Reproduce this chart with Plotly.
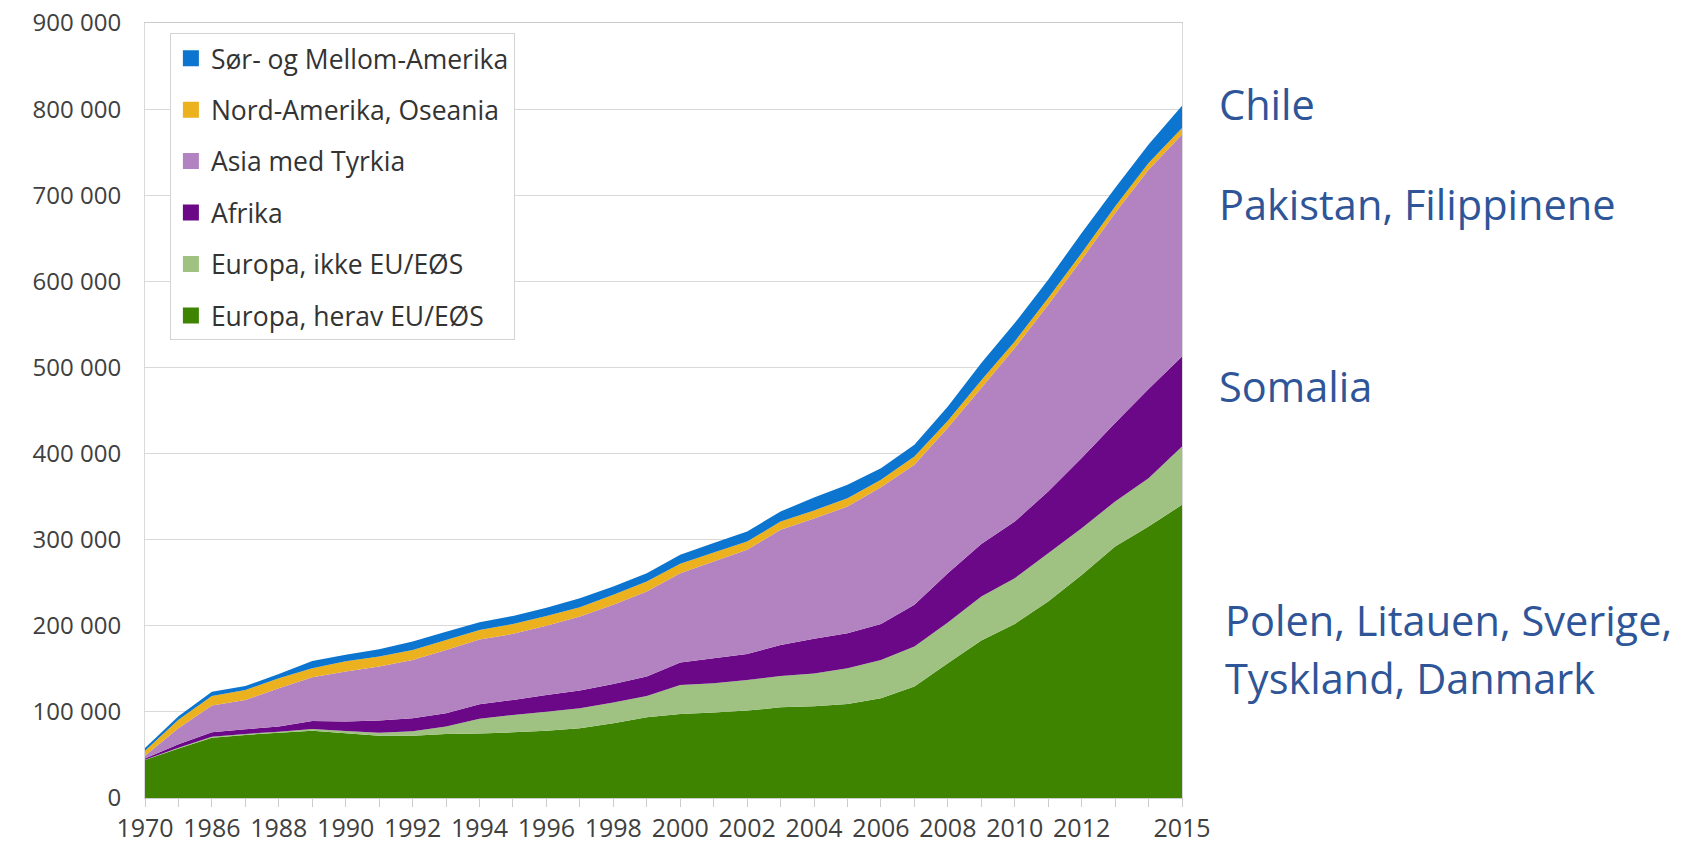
import plotly.graph_objects as go

years = ["1970", "1980"] + [str(y) for y in range(1986, 2016)]
tick_labels = ["1970", ""] + [str(y) if (y % 2 == 0 and y <= 2012) else "" for y in range(1986, 2015)] + ["2015"]

series_names = [
    "Europa, herav EU/EØS",
    "Europa, ikke EU/EØS",
    "Afrika",
    "Asia med Tyrkia",
    "Nord-Amerika, Oseania",
    "Sør- og Mellom-Amerika",
]

europa_eu = [44000, 57500, 70000, 73200, 75900, 78200, 75200, 72400, 72400, 74400, 75000, 76300,
             78200, 81000, 86800, 93700, 97600, 99200, 101500, 105300, 106500, 109200, 115800,
             129400, 156500, 182800, 202200, 228100, 259100, 292000, 315300, 340500]
europa_ikke_eu = [500, 1000, 1000, 1200, 1100, 2000, 2700, 3500, 5000, 8500, 17000, 20100, 22100,
                  23200, 24000, 24800, 33700, 34000, 35600, 36500, 38000, 41500, 44600, 46400,
                  47200, 51100, 53100, 56200, 54300, 52300, 56000, 67800]
afrika = [1500, 4000, 5300, 5400, 5900, 9300, 10800, 14000, 15200, 15500, 17000, 17500, 19400,
          20500, 21700, 22500, 26000, 29100, 30200, 36000, 40500, 40600, 41800, 48500, 57300,
          61200, 65700, 71700, 81300, 91100, 103700, 104500]
asia = [3000, 18500, 31000, 34100, 44500, 50700, 58100, 62700, 67800, 73600, 75000, 76700, 80300,
        86000, 91800, 98800, 103700, 112300, 120900, 133600, 139500, 147200, 158800, 162700,
        169000, 180900, 201500, 216900, 230500, 244000, 254700, 257600]
nord_amerika = [6000, 10000, 11200, 11600, 11600, 10500, 12000, 11600, 11600, 11600, 11000, 11400,
                11500, 10900, 11600, 11600, 11000, 10400, 9700, 9600, 9500, 9700, 8500, 9600,
                8000, 9000, 7700, 7700, 7700, 7600, 7800, 7600]
sor_amerika = [3000, 4000, 5000, 4500, 5000, 8500, 7500, 8600, 9600, 9600, 9000, 9500, 9500,
               10400, 9700, 9600, 10400, 11000, 11600, 11700, 15000, 15500, 13500, 13600, 16700,
               20100, 21300, 21300, 23300, 21400, 21300, 26000]

values = [europa_eu, europa_ikke_eu, afrika, asia, nord_amerika, sor_amerika]
colors = ["#3f8400", "#9fc283", "#6a0887", "#b383c1", "#ebb11f", "#0b75cf"]

notes = ["Chile", "Pakistan, Filippinene", "Somalia", "Polen, Litauen, Sverige,", "Tyskland, Danmark"]
note_y = [0.896, 0.767, 0.532, 0.2298, 0.155]
note_x = [1.0336, 1.0336, 1.0336, 1.0394, 1.0394]

fig = go.Figure()
for name, vals, col in zip(series_names, values, colors):
    fig.add_trace(go.Scatter(
        x=years, y=vals, name=name, stackgroup="one", mode="none",
        fillcolor=col, line=dict(width=0), showlegend=False, hoverinfo="skip",
    ))

# legend entries (top to bottom)
for name, col in reversed(list(zip(series_names, colors))):
    fig.add_trace(go.Scatter(
        x=[None], y=[None], name=name, mode="markers", legendgroup=name,
        marker=dict(symbol="square", size=16, color=col), showlegend=True,
    ))

for txt, xx, yy in zip(notes, note_x, note_y):
    fig.add_annotation(text=txt, x=xx, y=yy, xref="paper", yref="paper",
                       xanchor="left", yanchor="middle", showarrow=False,
                       font=dict(family="Open Sans", size=41.5, color="#2e5597"))

# the page body adds an 8px margin, so the figure is sized to fit the window
fig.update_layout(
    width=1675, height=834,
    margin=dict(l=137, r=501, t=15, b=44, autoexpand=False),
    paper_bgcolor="white", plot_bgcolor="white",
    separators=", ",
    hovermode=False,
    legend=dict(
        x=0.024, y=0.9865, xanchor="left", yanchor="top",
        bgcolor="white", bordercolor="#d4d4d4", borderwidth=1,
        font=dict(family="Open Sans", size=26.5, color="#333333"),
        traceorder="grouped", tracegroupgap=14,
    ),
    font=dict(family="Open Sans", color="#404040"),
)
fig.update_xaxes(
    type="category", range=[0, len(years) - 1], automargin=False,
    tickmode="array", tickvals=years, ticktext=tick_labels,
    ticks="outside", ticklen=8, tickcolor="#cccccc",
    showline=True, linecolor="#cccccc", mirror=True,
    showgrid=False, zeroline=False,
    tickfont=dict(family="Open Sans", size=25, color="#404040"),
    ticklabelstandoff=0, ticklabeloverflow="allow",
)
fig.update_yaxes(
    range=[0, 900000], dtick=100000, tickformat=",d", automargin=False,
    showgrid=True, gridcolor="#d9d9d9", gridwidth=1,
    showline=True, linecolor="#d9d9d9", mirror=True, zeroline=False,
    ticks="", tickfont=dict(family="Open Sans", size=24, color="#404040"),
    ticklabelstandoff=18, ticklabeloverflow="allow",
)

fig.write_html("out.html")
